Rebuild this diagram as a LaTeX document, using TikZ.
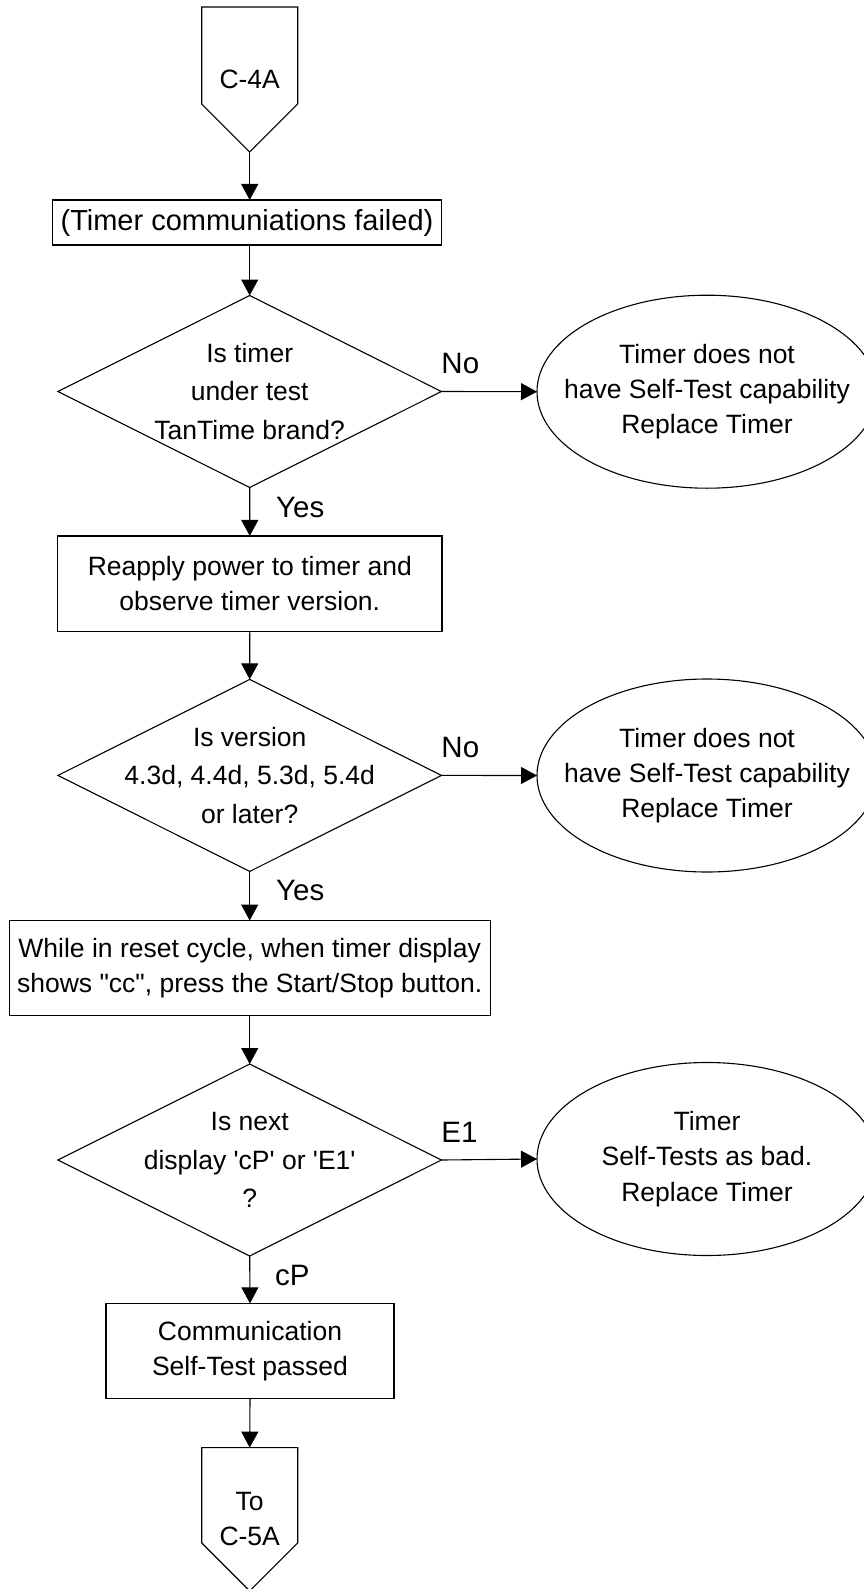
\documentclass[tikz,border=0pt]{standalone}
\usepackage{fontspec}
\setmainfont{Liberation Sans}[Ligatures=TeXOff]
\usetikzlibrary{arrows.meta,shapes.geometric,calc}
\begin{document}
\begin{tikzpicture}[x=1pt,y=-1pt,
  every node/.style={inner sep=0pt, outer sep=0pt},
  proc/.style={draw, rectangle, line width=1.1pt, align=center, font=\fontsize{26.5}{35}\selectfont},
  dec/.style={draw, diamond, line width=1.1pt, minimum width=383.5pt, minimum height=192pt},
  term/.style={draw, ellipse, line width=1.1pt, minimum width=340pt, minimum height=193pt},
  dtext/.style={align=center, font=\fontsize{26.5}{38.3}\selectfont},
  etext/.style={align=center, font=\fontsize{26.5}{35.3}\selectfont},
  lbl/.style={font=\fontsize{29.5}{35}\selectfont, anchor=west},
  arr/.style={line width=1.1pt, -{Triangle[length=16pt,width=17pt]}},
  offp/.style={rectangle, minimum width=96pt, align=center, font=\fontsize{26.5}{35}\selectfont},
  outline/.style={line width=1.1pt}
]
\useasboundingbox (0,0) rectangle (864,1589);
\clip (0,0) rectangle (864,1589);

% off-page connectors
\node[offp, minimum height=145pt] (c4a) at (249.7,79.5) {C-4A};
\draw[outline] (c4a.north west) -- (c4a.north east) -- ($(c4a.south east)+(0,-48)$)
  -- (c4a.south) -- ($(c4a.south west)+(0,-48)$) -- cycle;

\node[offp, minimum height=143.3pt] (c5a) at (249.7,1519.3) {To\\C-5A};
\draw[outline] (c5a.north west) -- (c5a.north east) -- ($(c5a.south east)+(0,-48)$)
  -- (c5a.south) -- ($(c5a.south west)+(0,-48)$) -- cycle;

% process boxes
\node[proc, minimum width=389pt, minimum height=45pt, font=\fontsize{29}{35}\selectfont] (b1) at (247,222.5) {(Timer communiations failed)};
\node[proc, minimum width=384.3pt, minimum height=95.7pt] (b2) at (249.8,583.8) {Reapply power to timer and\\observe timer version.};
\node[proc, minimum width=480.7pt, minimum height=94.5pt] (b3) at (249.7,967.8) {While in reset cycle, when timer display\\shows "cc", press the Start/Stop button.};
\node[proc, minimum width=288pt, minimum height=94.7pt] (b4) at (250,1350.7) {Communication\\Self-Test passed};

% decisions
\node[dec, label={[dtext]center:{Is timer\\under test\\TanTime brand?}}] (d1) at (249.7,391.5) {};
\node[dec, label={[dtext]center:{Is version\\4.3d, 4.4d, 5.3d, 5.4d\\or later?}}] (d2) at (249.7,775.4) {};
\node[dec, label={[dtext]center:{Is next\\display \textquotesingle cP\textquotesingle{} or \textquotesingle E1\textquotesingle\\?}}] (d3) at (249.7,1160) {};

% terminals
\node[term, label={[etext]center:{Timer does not\\have Self-Test capability\\Replace Timer}}] (e1) at (707,391.7) {};
\node[term, label={[etext]center:{Timer does not\\have Self-Test capability\\Replace Timer}}] (e2) at (707,775.5) {};
\node[term, label={[etext]center:{Timer\\Self-Tests as bad.\\Replace Timer}}] (e3) at (707,1159) {};

% connectors
\draw[arr] (c4a.south) -- (c4a.south |- b1.north);
\draw[arr] (b1.south -| d1.north) -- (d1.north);
\draw[arr] (d1.south) -- (b2.north);
\draw[arr] (b2.south) -- (d2.north);
\draw[arr] (d2.south) -- (b3.north);
\draw[arr] (b3.south) -- (d3.north);
\draw[arr] (d3.south) -- (b4.north);
\draw[arr] (b4.south) -- (c5a.north);
\draw[arr] (d1.east) -- (e1.west);
\draw[arr] (d2.east) -- (e2.west);
\draw[arr] (d3.east) -- (e3.west);

% branch labels
\node[lbl] (no1) at ($(d1.east)+(0,-28)$) {No};
\node[lbl] (yes1) at ($(d1.south)+(26.5,19.5)$) {Yes};
\node[lbl] (no2) at ($(d2.east)+(0,-28)$) {No};
\node[lbl] (yes2) at ($(d2.south)+(26.5,19.5)$) {Yes};
\node[lbl] (e1lbl) at ($(d3.east)+(0,-28)$) {E1};
\node[lbl] (cp) at ($(d3.south)+(25.5,19.5)$) {cP};
\end{tikzpicture}
\end{document}
